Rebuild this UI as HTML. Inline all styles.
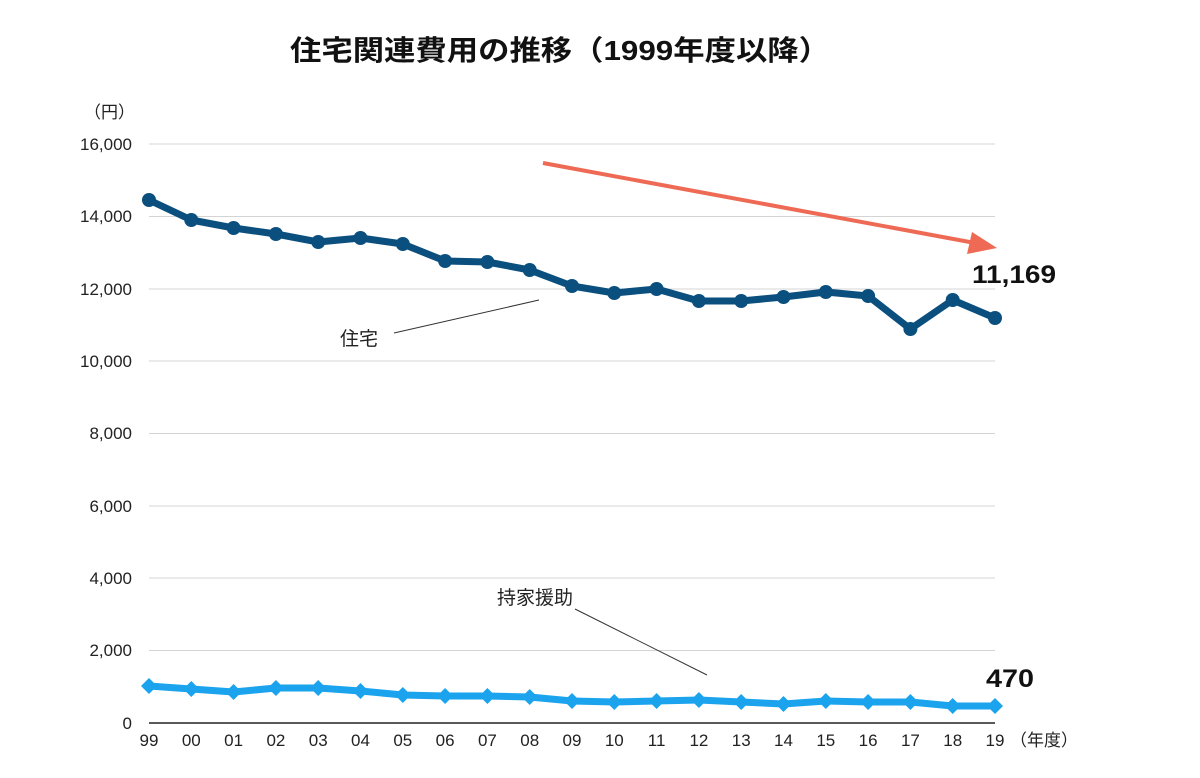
<!DOCTYPE html>
<html><head><meta charset="utf-8"><style>
body{margin:0;background:#fff;}
text{font-family:"Liberation Sans","Noto Sans CJK JP",sans-serif;}
</style></head><body>
<svg width="1200" height="773" viewBox="0 0 1200 773" xmlns="http://www.w3.org/2000/svg">
<rect width="1200" height="773" fill="#fff"/>
<text x="290" y="60" font-size="28" font-weight="bold" fill="#111" textLength="540" lengthAdjust="spacingAndGlyphs">住宅関連費用の推移（1999年度以降）</text>
<text x="84" y="118" font-size="17" fill="#222">（円）</text>
<g stroke="#d4d4d4" stroke-width="1">
<line x1="149" y1="144" x2="995" y2="144"/><line x1="149" y1="216.5" x2="995" y2="216.5"/>
<line x1="149" y1="289" x2="995" y2="289"/><line x1="149" y1="361" x2="995" y2="361"/>
<line x1="149" y1="433.5" x2="995" y2="433.5"/><line x1="149" y1="506" x2="995" y2="506"/>
<line x1="149" y1="578" x2="995" y2="578"/><line x1="149" y1="650.5" x2="995" y2="650.5"/>
</g>
<line x1="149" y1="723" x2="995" y2="723" stroke="#222" stroke-width="1.5"/>
<g font-size="17" fill="#222" text-anchor="end">
<text x="132" y="150">16,000</text><text x="132" y="222">14,000</text><text x="132" y="295">12,000</text>
<text x="132" y="367">10,000</text><text x="132" y="439">8,000</text><text x="132" y="512">6,000</text>
<text x="132" y="584">4,000</text><text x="132" y="656">2,000</text><text x="132" y="729">0</text>
</g>
<g font-size="17" fill="#222" text-anchor="middle">
<text x="149" y="746">99</text><text x="191.3" y="746">00</text><text x="233.6" y="746">01</text><text x="275.9" y="746">02</text><text x="318.2" y="746">03</text><text x="360.5" y="746">04</text><text x="402.8" y="746">05</text><text x="445.1" y="746">06</text><text x="487.4" y="746">07</text><text x="529.7" y="746">08</text><text x="572" y="746">09</text><text x="614.3" y="746">10</text><text x="656.6" y="746">11</text><text x="698.9" y="746">12</text><text x="741.2" y="746">13</text><text x="783.5" y="746">14</text><text x="825.8" y="746">15</text><text x="868.1" y="746">16</text><text x="910.4" y="746">17</text><text x="952.7" y="746">18</text><text x="995" y="746">19</text>
</g>
<text x="1010" y="746" font-size="17" fill="#222">（年度）</text>
<line x1="543" y1="163" x2="975" y2="243" stroke="#ee6a55" stroke-width="4"/>
<polygon points="997,248 972,232 967,254" fill="#ee6a55"/>
<polyline fill="none" stroke="#0a4f7e" stroke-width="7" stroke-linejoin="round" points="149,200 191.3,220 233.6,228 275.9,234 318.2,242 360.5,238 402.8,244 445.1,261 487.4,262 529.7,270 572,286 614.3,293 656.6,289 698.9,301 741.2,301 783.5,297 825.8,292 868.1,296 910.4,329 952.7,300 995,318"/>
<g fill="#0a4f7e">
<circle cx="149" cy="200" r="7"/><circle cx="191.3" cy="220" r="7"/><circle cx="233.6" cy="228" r="7"/><circle cx="275.9" cy="234" r="7"/><circle cx="318.2" cy="242" r="7"/><circle cx="360.5" cy="238" r="7"/><circle cx="402.8" cy="244" r="7"/><circle cx="445.1" cy="261" r="7"/><circle cx="487.4" cy="262" r="7"/><circle cx="529.7" cy="270" r="7"/><circle cx="572" cy="286" r="7"/><circle cx="614.3" cy="293" r="7"/><circle cx="656.6" cy="289" r="7"/><circle cx="698.9" cy="301" r="7"/><circle cx="741.2" cy="301" r="7"/><circle cx="783.5" cy="297" r="7"/><circle cx="825.8" cy="292" r="7"/><circle cx="868.1" cy="296" r="7"/><circle cx="910.4" cy="329" r="7"/><circle cx="952.7" cy="300" r="7"/><circle cx="995" cy="318" r="7"/>
</g>
<polyline fill="none" stroke="#1ba3ee" stroke-width="7" stroke-linejoin="round" points="149,686 191.3,689 233.6,692 275.9,688 318.2,688 360.5,691 402.8,695 445.1,696 487.4,696 529.7,697 572,701 614.3,702 656.6,701 698.9,700 741.2,702 783.5,704 825.8,701 868.1,702 910.4,702 952.7,706 995,706"/>
<g fill="#1ba3ee">
<path d="M149 678l8 8-8 8-8-8z"/><path d="M191.3 681l8 8-8 8-8-8z"/><path d="M233.6 684l8 8-8 8-8-8z"/><path d="M275.9 680l8 8-8 8-8-8z"/><path d="M318.2 680l8 8-8 8-8-8z"/><path d="M360.5 683l8 8-8 8-8-8z"/><path d="M402.8 687l8 8-8 8-8-8z"/><path d="M445.1 688l8 8-8 8-8-8z"/><path d="M487.4 688l8 8-8 8-8-8z"/><path d="M529.7 689l8 8-8 8-8-8z"/><path d="M572 693l8 8-8 8-8-8z"/><path d="M614.3 694l8 8-8 8-8-8z"/><path d="M656.6 693l8 8-8 8-8-8z"/><path d="M698.9 692l8 8-8 8-8-8z"/><path d="M741.2 694l8 8-8 8-8-8z"/><path d="M783.5 696l8 8-8 8-8-8z"/><path d="M825.8 693l8 8-8 8-8-8z"/><path d="M868.1 694l8 8-8 8-8-8z"/><path d="M910.4 694l8 8-8 8-8-8z"/><path d="M952.7 698l8 8-8 8-8-8z"/><path d="M995 698l8 8-8 8-8-8z"/>
</g>
<line x1="394" y1="333" x2="539" y2="300" stroke="#333" stroke-width="1"/>
<text x="340" y="345" font-size="19" fill="#222">住宅</text>
<line x1="575" y1="609" x2="707" y2="675" stroke="#333" stroke-width="1"/>
<text x="497" y="604" font-size="19" fill="#222">持家援助</text>
<text x="972" y="283" font-size="25" font-weight="bold" fill="#111" textLength="84" lengthAdjust="spacingAndGlyphs">11,169</text>
<text x="986" y="687" font-size="25" font-weight="bold" fill="#111" textLength="48" lengthAdjust="spacingAndGlyphs">470</text>
</svg>
</body></html>
